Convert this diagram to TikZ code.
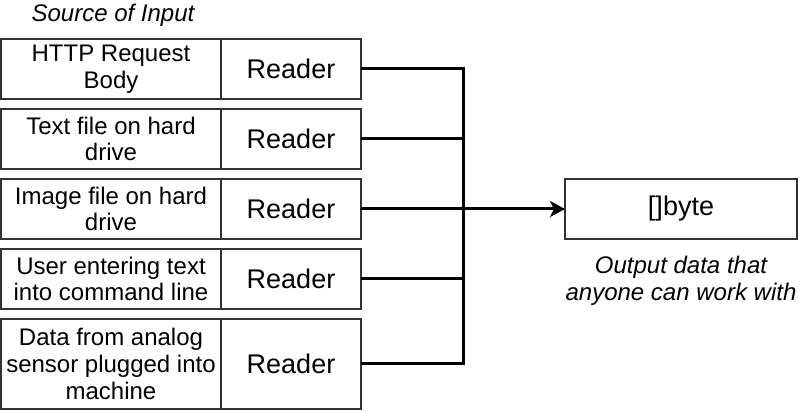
\documentclass[tikz,border=0pt]{standalone}
\usepackage{fontspec}
\setmainfont{Liberation Sans}
\usetikzlibrary{positioning,arrows.meta}
\definecolor{boxline}{HTML}{333333}

\begin{document}
\begin{tikzpicture}[x=1pt, y=-1pt,
  srcbox/.style={shape=rectangle, draw=boxline, line width=1.5pt, outer sep=0pt, inner sep=2pt, minimum width=220pt, minimum height=60pt, align=center, font=\fontsize{24}{26.7}\selectfont },
  readerbox/.style={shape=rectangle, draw=boxline, line width=1.5pt, outer sep=0pt, minimum width=140pt, minimum height=60pt, font=\fontsize{27}{30}\selectfont },
  outbox/.style={shape=rectangle, draw=boxline, line width=1.5pt, outer sep=0pt, minimum width=232pt, minimum height=60pt, font=\fontsize{27}{30}\selectfont },
  note/.style={inner sep=0pt, align=center, font=\fontsize{24}{26.7}\selectfont\itshape },
  wire/.style={draw=black, line width=3pt },
]

\useasboundingbox (0,0) rectangle (806,411);

%SOURCES
\node[note, anchor=base] (srctitle) at (113,21.3) {Source of Input};

\node[srcbox] (src1) at (111,69) {HTTP Request\\Body};
\node[readerbox, right=0pt of src1] (rd1) {Reader};

\node[srcbox] (src2) at (111,139) {Text file on hard\\drive};
\node[readerbox, right=0pt of src2] (rd2) {Reader};

\node[srcbox] (src3) at (111,209) {Image file on hard\\drive};
\node[readerbox, right=0pt of src3] (rd3) {Reader};

\node[srcbox] (src4) at (111,279) {User entering text\\into command line};
\node[readerbox, right=0pt of src4] (rd4) {Reader};

\node[srcbox, minimum height=90pt] (src5) at (111,364) {Data from analog\\sensor plugged into\\machine};
\node[readerbox, minimum height=90pt, right=0pt of src5] (rd5) {Reader};

%OUTPUT
\node[outbox] (out) at (681,209) {[]byte};
\node[note] (outnote) at (681,281) {Output data that\\anyone can work with};

%WIRES
\coordinate (bus) at (463,209);
\draw[wire] (rd1.east) -| (bus) |- (rd5.east);
\draw[wire] (rd2.east) -- (rd2.east -| bus);
\draw[wire] (rd4.east) -- (rd4.east -| bus);
\draw[wire, -{Stealth[length=15pt, width=16pt, inset=4pt]}] (rd3.east) -- (out.west);

\end{tikzpicture}
\end{document}
